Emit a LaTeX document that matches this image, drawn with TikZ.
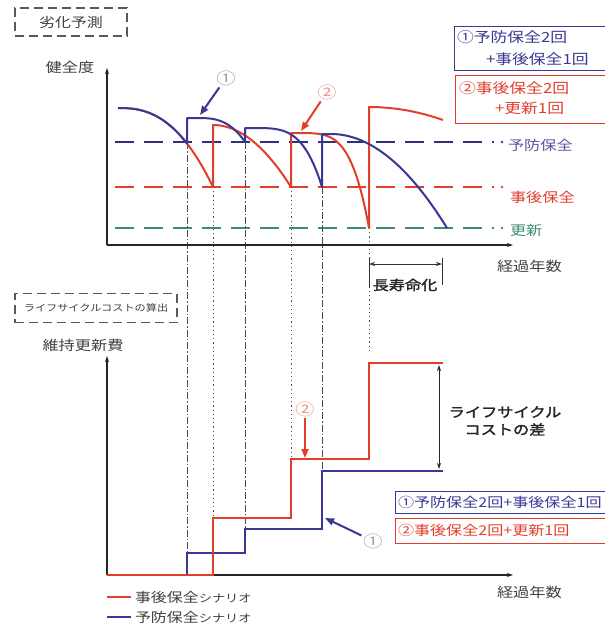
\documentclass[tikz,border=0pt]{standalone}
\usepackage{fontspec}
\setmainfont{Noto Sans CJK JP}[FakeStretch=1.2]
\newfontfamily\jpb{Noto Sans CJK JP}[FakeStretch=1.2,FakeBold=2]
\usetikzlibrary{arrows.meta}
\definecolor{navy}{RGB}{58,56,150}
\definecolor{rd}{RGB}{226,62,44}
\definecolor{gr}{RGB}{64,140,110}
\definecolor{txt}{RGB}{64,64,64}
\newcommand{\fs}[1]{\fontsize{#1}{#1}\selectfont}
\begin{document}
\begin{tikzpicture}[x=1pt,y=-1pt,
  every node/.style={inner sep=0pt,outer sep=0pt,text=txt},
  lbl/.style={font=\fs{13.5}},
  dbox/.style={draw=black!65,line width=1.3pt,dash pattern=on 9pt off 5pt},
  axis/.style={line width=2.2pt,black!85},
  curveB/.style={navy,line width=2pt,line join=round},
  curveR/.style={rd,line width=2pt,line join=round},
  stepB/.style={navy,line width=2.6pt},
  stepR/.style={rd,line width=2.6pt},
  guideA/.style={black!70,line width=0.9pt,dash pattern=on 7pt off 2pt on 1.5pt off 2pt},
  guideD/.style={black!70,line width=0.9pt,dash pattern=on 1.2pt off 3pt},
  hd/.style={line width=2.4pt,dash pattern=on 19pt off 10pt},
  arrB/.style={navy,line width=2pt,-{Triangle[length=9pt,width=7pt]}},
  arrR/.style={rd,line width=2pt,-{Triangle[length=9pt,width=7pt]}},
  circ/.style={font=\fs{16},inner sep=2pt},
  tip/.style={-{Stealth[length=6pt,width=4pt]}},
]
\useasboundingbox[fill=white] (0,0) rectangle (605,624);

% ---------- top chart ----------
\node[dbox,minimum width=112pt,minimum height=28pt,font=\fs{13.3}] (tb1) at (71,22) {劣化予測};
\node[lbl] (ylab1) at (70,67) {健全度};
\node[lbl,anchor=west] (xlab1) at (497,266) {経過年数};
\coordinate (o1) at (107,245);
\coordinate (ytop1) at (107,68);
\coordinate (xend1) at (513,245);

% horizontal thresholds
\draw[hd,navy!85!black] (115,142) -- (494,142);
\fill[navy] (502,142) circle (1.3pt);
\draw[hd,rd] (115,187) -- (494,187);
\fill[rd] (502,187) circle (1.3pt);
\draw[hd,gr] (115,228) -- (494,228);
\fill[gr] (502,228) circle (1.3pt);
\node[lbl,anchor=west,text=navy!85] (lpv) at (508,145) {予防保全};
\node[lbl,anchor=west,text=rd] (lpo) at (510,197) {事後保全};
\node[lbl,anchor=west,text=gr] (lrn) at (510,230) {更新};

% guide lines
\draw[guideA] (187,142) -- (187,553);
\draw[guideA] (245,142) -- (245,529);
\draw[guideA] (322,187) -- (322,472);
\draw[guideD] (213,187) -- (213,518);
\draw[guideD] (291,187) -- (291,459);
\draw[guideD] (369,228) -- (369,350);

\draw[axis,tip] (o1) -- (ytop1);
\draw[axis,tip] (o1) -- (xend1);

% red scenario curve
\draw[curveR] plot[domain=118:213,samples=40] (\x,{108+79*((\x-118)/95)^2*sqrt(abs((\x-118)/95))})
  -- (213,125) -- plot[domain=213:291,samples=30] (\x,{125+62*((\x-213)/78)^2})
  -- (291,133) -- plot[domain=291:369,samples=40] (\x,{133+95*((\x-291)/78)^4*sqrt(abs((\x-291)/78))})
  -- (369,107) -- plot[domain=369:443,samples=20] (\x,{107+13*((\x-369)/74)^2});
% blue scenario curve
\draw[curveB] plot[domain=118:187,samples=35] (\x,{108+79*((\x-118)/95)^2*sqrt(abs((\x-118)/95))})
  -- (187,118) -- (196,118) -- plot[domain=196:245,samples=30] (\x,{118+24*((\x-196)/49)^3})
  -- (245,128) -- (249,128) -- plot[domain=249:322,samples=35] (\x,{128+59*((\x-249)/73)^4})
  -- (322,134) -- (331,134) -- plot[domain=331:447,samples=40] (\x,{134+94*((\x-331)/116)^2});

\node[circ,text=gray!75] (c1t) at (226,78) {①};
\draw[arrB] (c1t) -- (200,115);
\node[circ,text=rd!55] (c2t) at (327,92) {②};
\draw[arrR] (c2t) -- (301,131);

% top right legend
\draw[navy,line width=1pt] (454,26) rectangle (607,70);
\node[anchor=west,text=navy,font=\fs{14}] (lg1a) at (457,37) {①予防保全2回};
\node[anchor=west,text=navy,font=\fs{14}] (lg1b) at (486,59) {+事後保全1回};
\draw[rd,line width=1pt] (455,75) rectangle (607,123);
\node[anchor=west,text=rd,font=\fs{14}] (lg2a) at (459,88) {②事後保全2回};
\node[anchor=west,text=rd,font=\fs{14}] (lg2b) at (495,108) {+更新1回};

% long life bracket
\draw[black!80,line width=0.9pt] (369,258) -- (369,288);
\draw[black!80,line width=0.9pt] (442,258) -- (442,285);
\draw[black!80,line width=0.9pt,{Stealth[length=6pt,width=4pt]}-{Stealth[length=6pt,width=4pt]}] (369,264) -- (442,264);
\node[font=\jpb\fs{13.5},text=black!85] (llife) at (405,285) {長寿命化};

% ---------- bottom chart ----------
\node[dbox,minimum width=162pt,minimum height=29pt,font=\fs{9.3}] (tb2) at (96,308) {ライフサイクルコストの算出};
\node[lbl] (ylab2) at (83,345) {維持更新費};
\node[lbl,anchor=west] (xlab2) at (497,592) {経過年数};
\coordinate (o2) at (107,575);
\coordinate (ytop2) at (107,356);
\coordinate (xend2) at (513,575);
\draw[axis,tip] (o2) -- (ytop2);
\draw[axis,tip] (o2) -- (xend2);

\draw[stepB] (187,575) -- (187,553) -- (245,553) -- (245,529) -- (322,529) -- (322,471) -- (443,471);
\draw[stepR] (107,575) -- (213,575) -- (213,518) -- (291,518) -- (291,459) -- (369,459) -- (369,363) -- (443,363);

\draw[black!85,line width=0.8pt,{Stealth[length=6pt,width=4pt]}-{Stealth[length=6pt,width=4pt]}] (439,365) -- (439,469);
\node[font=\jpb\fs{13.5},text=black!85,align=center] (lcc) at (505,421) {ライフサイクル\\[4pt]コストの差};

\node[circ,text=rd!55] (c2b) at (305,409) {②};
\draw[arrR] (c2b) -- (305,458);
\node[circ,text=gray!75] (c1b) at (373,541) {①};
\draw[arrB] (c1b) -- (325,518);

\draw[navy,line width=1pt] (395,491) rectangle (607,513);
\node[anchor=west,text=navy,font=\fs{13.4}] (lb1) at (398,502) {①予防保全2回+事後保全1回};
\draw[rd,line width=1pt] (395,518) rectangle (607,543);
\node[anchor=west,text=rd,font=\fs{13.4}] (lb2) at (398,530.5) {②事後保全2回+更新1回};

% legend
\draw[stepR] (107,597) -- (131,597);
\node[anchor=west,font=\fs{13.3}] (lgr) at (135,597) {事後保全\fs{11}シナリオ};
\draw[stepB] (107,617) -- (131,617);
\node[anchor=west,font=\fs{13.3}] (lgb) at (135,617) {予防保全\fs{11}シナリオ};
\end{tikzpicture}
\end{document}
